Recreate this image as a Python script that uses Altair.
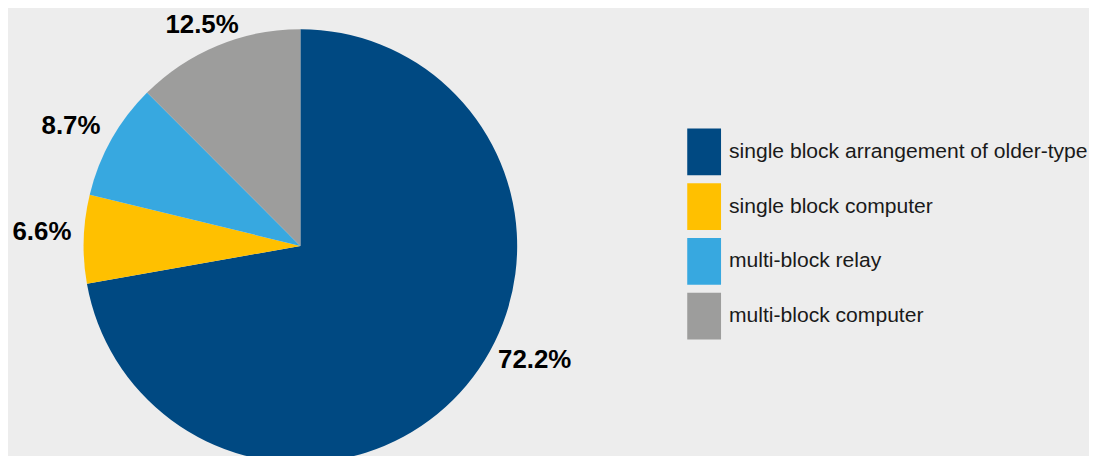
import altair as alt
import pandas as pd

categories = [
    "single block arrangement of older-type",
    "single block computer",
    "multi-block relay",
    "multi-block computer",
]
shares = [72.2, 6.6, 8.7, 12.5]
labels = ["72.2%", "6.6%", "8.7%", "12.5%"]
colors = ["#004982", "#ffc000", "#37a8e0", "#9d9d9c"]

df = pd.DataFrame({
    "category": categories,
    "share": shares,
    "label": labels,
    "order": list(range(len(categories))),
})

cx, cy, R = 294, 238, 218

base = alt.Chart(df).encode(
    theta=alt.Theta("share:Q", stack=True),
    order=alt.Order("order:Q"),
)

pie = base.mark_arc(outerRadius=R, strokeWidth=0).encode(
    x=alt.value(cx),
    y=alt.value(cy),
    color=alt.Color(
        "category:N",
        scale=alt.Scale(domain=categories, range=colors),
        sort=categories,
        legend=alt.Legend(
            title=None,
            orient="none",
            legendX=676.5,
            legendY=120,
            padding=0,
            symbolType="M-0.723,-1H0.723V1H-0.723Z",
            symbolSize=2209,
            symbolStrokeWidth=0,
            symbolOpacity=1,
            labelFont="Liberation Sans",
            labelFontSize=21.2,
            labelColor="#1a1a1a",
            labelOffset=1.5,
            labelLimit=600,
            rowPadding=8,
        ),
    ),
)

# label placement: (radius, dx, dy) per label
placement = {
    "72.2%": (250, 44, -46),
    "6.6%": (260, 0, -6),
    "8.7%": (260, -4, 7),
    "12.5%": (240, -7, 0),
}

text_layers = []
for lab, (r, dx, dy) in placement.items():
    text_layers.append(
        base.mark_text(
            radius=r, dx=dx, dy=dy, fontSize=26, fontWeight="bold",
            font="Liberation Sans", color="black",
        ).encode(
            x=alt.value(cx),
            y=alt.value(cy),
            text=alt.condition(f"datum.label == '{lab}'", "label:N", alt.value("")),
        )
    )

chart = alt.layer(pie, *text_layers).properties(
    width=1087,
    height=448,
    background="#ededed",
    padding=0,
    autosize=alt.AutoSizeParams(type="none"),
).configure_view(stroke=None)

chart.save("out.html", embed_options={"renderer": "svg", "actions": False})
